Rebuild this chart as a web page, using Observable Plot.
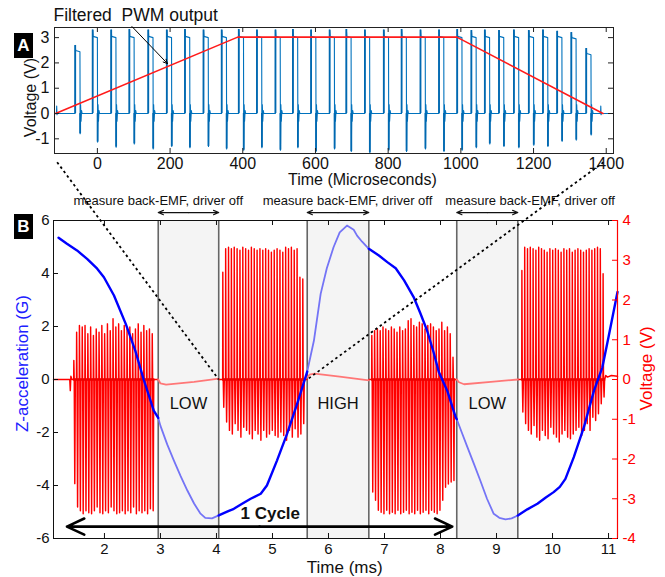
<!DOCTYPE html>
<html><head><meta charset="utf-8">
<script src="https://cdn.jsdelivr.net/npm/d3@7"></script>
<script src="https://cdn.jsdelivr.net/npm/@observablehq/plot@0.6"></script>
<style>
body{margin:0;background:#fff;font-family:"Liberation Sans",Arial,Helvetica,sans-serif;}
#wrap{position:relative;width:665px;height:577px;overflow:hidden;background:#fff;}
#pa,#pb{position:absolute;left:0;top:0;}
.tag{position:absolute;width:19px;height:25px;background:#000;color:#fff;font-weight:bold;font-size:17px;line-height:25px;text-align:center;}
</style></head><body>
<div id="wrap"><div id="pb"></div><div id="pa"></div><div class="tag" style="left:14px;top:33px">A</div><div class="tag" style="left:14px;top:214px">B</div></div>
<script>
// ================= PANEL A data =================
const aTitle = "Filtered\u00a0 PWM output";
const aXLabel = "Time (Microseconds)";
const aYLabel = "Voltage (V)";
const aXDomain = [-118, 1420];
const aYDomain = [-1.58, 3.4];
const aXTicks = [0, 200, 400, 600, 800, 1000, 1200, 1400];
const aYTicks = [-1, 0, 1, 2, 3];
// PWM pulses (rising-edge time in µs, peak and trough in V)
const pulseT = [-61,-13,38,88,140,191,241,292,342,389,439,490,538,588,639,685,736,788,837,889,940,990,1029,1066,1105,1146,1187,1226,1265,1304,1345];
const pulsePeak = [2.69,3.3,3.3,3.32,3.3,3.3,3.32,3.3,3.3,3.32,3.3,3.3,3.32,3.3,3.3,3.32,3.3,3.3,3.32,3.3,3.3,3.32,3.28,3.3,3.28,3.3,3.28,3.3,3.25,3.2,2.57];
const pulseTrough = [-0.8,-1.13,-1.33,-1.2,-1.4,-1.3,-1.35,-1.3,-1.4,-1.45,-1.35,-1.45,-1.35,-1.5,-1.4,-1.5,-1.55,-1.45,-1.5,-1.4,-1.5,-1.45,-1.35,-1.2,-1.3,-1.35,-1.25,-1.3,-1.1,-1.05,-0.85];
const pulsePlateau = 3.05;
const pulseWidth = 13;
const bumpT = [-112, 1385];
const bumpV = [0.3, 0.3];
// filtered PWM output (trapezoid)
const filteredT = [-115, 386, 989, 1391];
const filteredV = [0, 3.02, 3.02, 0];
const pwmArrowT = [95, 193];
const pwmArrowV = [3.44, 1.97];

// ================= PANEL B data =================
const bXLabel = "Time (ms)";
const bYLabel = "Z-acceleration (G)";
const bVLabel = "Voltage (V)";
const bXDomain = [1.09, 11.16];
const bYDomain = [-6, 6];
const bXTicks = [2, 3, 4, 5, 6, 7, 8, 9, 10, 11];
const bYTicks = [-6, -4, -2, 0, 2, 4, 6];
const bVTicks = [-4, -3, -2, -1, 0, 1, 2, 3, 4];
const vToG = 1.5; // right axis: 4 V spans the same height as 6 G
const windowStart = [2.96, 5.62, 8.29];
const windowEnd = [4.04, 6.72, 9.38];
const windowLabel = ["LOW", "HIGH", "LOW"];
const emfText = "measure back-EMF, driver off";
const emfLabelT = [2.96, 6.34, 9.6];
const emfLabelG = 6.75;
const emfArrowG = 6.3;
const windowLabelG = -0.9;
// acceleration, driver on (dark) and measuring (light)
const driveT = [
  [1.18,1.33,1.51,1.69,1.87,1.99,2.17,2.38,2.55,2.70,2.88,2.96],
  [4.04,4.2,4.31,4.45,4.61,4.79,4.9,4.96,5.08,5.26,5.44,5.59,5.62],
  [6.72,6.9,7.05,7.2,7.35,7.52,7.64,7.76,7.88,7.97,8.12,8.27,8.29],
  [9.38,9.55,9.73,9.88,10.02,10.13,10.23,10.38,10.56,10.74,10.89,11.0,11.16]];
const driveG = [
  [5.35,5.12,4.87,4.55,4.18,3.86,3.17,2.10,1.09,0.0,-1.17,-1.45],
  [-5.13,-4.98,-4.88,-4.7,-4.5,-4.31,-4.0,-3.69,-3.06,-2.05,-0.92,0.09,0.3],
  [4.93,4.68,4.43,4.2,3.74,3.11,2.5,1.85,1.0,0.28,-0.42,-1.42,-1.5],
  [-5.13,-4.9,-4.69,-4.45,-4.25,-4.05,-3.75,-2.93,-1.8,-0.42,0.46,1.6,3.3]];
const measureT = [
  [2.96,3.0,3.12,3.24,3.36,3.48,3.6,3.71,3.8,3.92,4.04],
  [5.62,5.74,5.86,5.97,6.09,6.2,6.33,6.45,6.51,6.6,6.72],
  [8.29,8.38,8.48,8.6,8.71,8.83,8.95,9.05,9.16,9.27,9.38]];
const measureG = [
  [-1.45,-1.75,-2.45,-3.06,-3.65,-4.19,-4.68,-5.05,-5.22,-5.24,-5.13],
  [0.3,1.47,3.23,4.2,4.99,5.55,5.81,5.65,5.43,5.2,4.93],
  [-1.5,-2.0,-2.55,-3.2,-3.81,-4.5,-5.07,-5.22,-5.28,-5.24,-5.13]];
// drive voltage bursts (V)
const burstStart = [1.45, 4.11, 6.77, 9.45];
const burstPeriod = [0.05, 0.051, 0.05, 0.05];
const burst1Pos = [0.48,1.19,1.36,1.32,1.36,1.15,1.32,1.11,1.27,1.19,1.36,1.15,1.40,1.23,1.53,1.32,1.40,1.23,1.36,1.27,1.32,1.15,1.27,1.40,1.19,1.36,1.23,1.27,1.15];
const burst1Neg = [-2.62,-3.21,-3.3,-3.38,-3.3,-3.35,-3.38,-3.3,-3.21,-3.35,-3.38,-3.3,-3.35,-3.21,-3.3,-3.38,-3.35,-3.3,-3.38,-3.3,-3.35,-3.21,-3.38,-3.3,-3.35,-3.3,-3.38,-3.25,-3.3];
const burst2Pos = [2.70,3.29,3.33,3.29,3.33,3.29,3.25,3.33,3.29,3.25,3.33,3.29,3.25,3.29,3.25,3.29,3.25,3.20,3.25,3.29,3.25,3.20,3.33,3.29,3.33,3.25,3.29,2.57,2.53];
const burst2Neg = [-0.70,-1.07,-1.28,-1.37,-1.11,-1.28,-1.45,-1.20,-1.28,-1.37,-1.49,-1.28,-1.37,-1.53,-1.28,-1.45,-1.37,-1.28,-1.41,-1.45,-1.32,-1.41,-1.53,-1.28,-1.45,-1.24,-1.45,-1.37,-1.11];
const burst3Pos = [1.11,1.23,1.27,1.23,1.32,1.27,1.23,1.32,1.27,1.19,1.32,1.23,1.27,1.48,1.53,1.36,1.32,1.44,1.40,1.27,1.36,1.40,1.32,1.23,1.27,1.44,1.23,1.32,1.15,0.56];
const burst3Neg = [-2.83,-3.04,-3.29,-3.34,-3.38,-3.29,-3.38,-3.34,-3.38,-3.29,-3.38,-3.34,-3.29,-3.38,-3.34,-3.38,-3.29,-3.38,-3.34,-3.29,-3.38,-3.29,-3.34,-3.38,-3.29,-3.04,-2.71,-2.63,-2.58,-2.54];
const burst4Pos = [2.74,3.33,3.29,3.33,3.29,3.25,3.33,3.29,3.25,3.20,3.29,3.25,3.29,3.25,3.20,3.29,3.25,3.29,3.20,3.25,3.29,3.25,3.20,3.25,3.29,3.25,3.29,3.33,3.29,2.66];
const burst4Neg = [-0.82,-1.11,-1.28,-1.37,-1.16,-1.45,-1.53,-1.28,-1.41,-1.49,-1.20,-1.37,-1.45,-1.57,-1.37,-1.28,-1.45,-1.49,-1.37,-1.28,-1.20,-1.41,-1.28,-1.11,-1.28,-0.95,-1.03,-0.86,-0.61,-0.44];
const preT = [1.09, 1.38, 1.39, 1.40, 1.42];
const preV = [0, 0, -0.28, 0.08, 0];
const postT = [10.93, 10.95, 10.98, 11.05, 11.16];
const postV = [0, 0.1, 0.06, 0.1, 0.08];
// back-EMF during measurement windows (V)
const quietT = [[2.96,3.0,3.1,3.6,4.04],[5.62,5.66,5.75,6.2,6.72],[8.29,8.33,8.42,8.9,9.38]];
const quietV = [[0,-0.1,-0.13,-0.06,0.02],[0.05,0.12,0.15,0.07,-0.02],[0,-0.07,-0.12,-0.06,0]];
// zoom connectors (panel A -> panel B), in panel B units
const zoomFromT = [1.155, 10.91];
const zoomFromG = [8.2, 8.2];
const zoomToT = [4.04, 5.62];
const zoomToG = [0, 0];
// 1 cycle
const cycleT = [1.33, 8.21];
const cycleG = -5.55;
const cycleText = "1 Cycle";
const cycleTextT = 4.96;
const cycleTextG = -5.06;

const font = '"Liberation Sans", Arial, Helvetica, sans-serif';
const fmt = d => (d < 0 ? "-" : "") + Math.abs(Math.round(d * 1000) / 1000);

// ---------- build panel A signal ----------
const aSignal = [{t: aXDomain[0], v: 0}];
const aEvents = [];
pulseT.forEach((t, i) => aEvents.push({t, kind: "p", i}));
bumpT.forEach((t, i) => aEvents.push({t, kind: "b", i}));
aEvents.sort((a, b) => a.t - b.t);
const riseRules = [], troughRules = [];
for (const e of aEvents) {
  const t = e.t, i = e.i;
  if (e.kind === "b") {
    aSignal.push({t: t - 0.6, v: 0}, {t, v: bumpV[i]}, {t: t + 0.8, v: -0.05}, {t: t + 1.6, v: 0});
  } else {
    const w = pulseWidth;
    const top = Math.min(pulsePlateau, pulsePeak[i] - 0.2);
    aSignal.push({t: t - 0.3, v: 0}, {t, v: pulsePeak[i]}, {t: t + 1.2, v: top},
      {t: t + w, v: top - 0.05}, {t: t + w + 0.6, v: pulseTrough[i]}, {t: t + w + 1.8, v: 0.35},
      {t: t + w + 3, v: -0.3}, {t: t + w + 4.5, v: 0.12}, {t: t + w + 6, v: 0});
    riseRules.push({t, y1: 0, y2: pulsePeak[i]});
    troughRules.push({t: t + w + 0.6, y1: pulseTrough[i], y2: 0});
  }
}
aSignal.push({t: aXDomain[1], v: 0});
const filtered = filteredT.map((t, i) => ({t, v: filteredV[i]}));

const aInnerW = 665 - 54 - 52, aInnerH = 190 - 27 - 37;
const panelA = Plot.plot({
  width: 665, height: 190, marginTop: 27, marginBottom: 37, marginLeft: 54, marginRight: 52,
  x: {domain: aXDomain}, y: {domain: aYDomain},
  style: {fontFamily: font, fontSize: "16px", background: "transparent", overflow: "visible", color: "#111"},
  marks: [
    Plot.line(aSignal, {x: "t", y: "v", stroke: "#0072BD", strokeWidth: 1.1}),
    Plot.ruleX(riseRules, {x: "t", y1: "y1", y2: "y2", stroke: "#0068b0", strokeWidth: 1.8}),
    Plot.ruleX(troughRules, {x: "t", y1: "y1", y2: "y2", stroke: "#0068b0", strokeWidth: 1.8}),
    Plot.line(filtered, {x: "t", y: "v", stroke: "#ff1a1a", strokeWidth: 1.6}),
    Plot.frame({stroke: "#222", strokeWidth: 1}),
    Plot.tickX(aXTicks, {x: d => d, insetTop: aInnerH - 5, stroke: "#222"}),
    Plot.tickX(aXTicks, {x: d => d, insetBottom: aInnerH - 5, stroke: "#222"}),
    Plot.tickY(aYTicks, {y: d => d, insetRight: aInnerW - 5, stroke: "#222"}),
    Plot.tickY(aYTicks, {y: d => d, insetLeft: aInnerW - 5, stroke: "#222"}),
    Plot.axisX({ticks: aXTicks, tickSize: 0, tickPadding: 4, label: null, tickFormat: fmt, fontSize: 16}),
    Plot.axisY({ticks: aYTicks, tickSize: 0, tickPadding: 5, label: null, tickFormat: fmt, fontSize: 16}),
    Plot.text([aXLabel], {x: () => 729, frameAnchor: "bottom", dy: 26, lineAnchor: "middle", textAnchor: "middle", fontSize: 16, text: d => d}),
    Plot.text([aYLabel], {y: () => 0.63, frameAnchor: "left", dx: -24, rotate: -90, textAnchor: "middle", lineAnchor: "middle", fontSize: 16, text: d => d}),
    Plot.text([aTitle], {frameAnchor: "top-left", textAnchor: "start", lineAnchor: "middle", dx: -1, dy: -12, fontSize: 17.5, text: d => d}),
    Plot.arrow([0], {x1: () => pwmArrowT[0], y1: () => pwmArrowV[0], x2: () => pwmArrowT[1], y2: () => pwmArrowV[1], stroke: "#000", strokeWidth: 1, headLength: 7, headAngle: 50})
  ]
});
document.getElementById("pa").appendChild(panelA);

// ---------- build panel B signals ----------
const burstPos = [burst1Pos, burst2Pos, burst3Pos, burst4Pos];
const burstNeg = [burst1Neg, burst2Neg, burst3Neg, burst4Neg];
const red = [];
const burstBase = [];
burstPos.forEach((pos, k) => {
  if (k === 0) preT.forEach((t, i) => red.push({t, v: preV[i], z: k}));
  else red.push({t: windowEnd[k - 1], v: 0, z: k});
  pos.forEach((p, i) => {
    const t = burstStart[k] + i * burstPeriod[k];
    red.push({t, v: 0, z: k}, {t: t + 0.003, v: p, z: k}, {t: t + 0.01, v: 0, z: k},
      {t: t + 0.02, v: burstNeg[k][i], z: k}, {t: t + 0.03, v: 0, z: k});
  });
  burstBase.push({x1: burstStart[k], x2: burstStart[k] + pos.length * burstPeriod[k]});
  if (k < 3) red.push({t: windowStart[k], v: 0, z: k});
  else postT.forEach((t, i) => red.push({t, v: postV[i], z: k}));
});
const quiet = quietT.flatMap((ts, k) => ts.map((t, i) => ({t, v: quietV[k][i], z: k})));
const driveAcc = driveT.flatMap((ts, k) => ts.map((t, i) => ({t, g: driveG[k][i], z: k})));
const measureAcc = measureT.flatMap((ts, k) => ts.map((t, i) => ({t, g: measureG[k][i], z: k})));
const windows = windowStart.map((s, i) => ({s, e: windowEnd[i], label: windowLabel[i], mid: (s + windowEnd[i]) / 2, tt: emfLabelT[i]}));
const emfArrows = windows.flatMap(w => [{x1: w.mid, x2: w.s}, {x1: w.mid, x2: w.e}]);
const cycleMid = (cycleT[0] + cycleT[1]) / 2;
const cycleArrows = [{x1: cycleMid, x2: cycleT[0]}, {x1: cycleMid, x2: cycleT[1]}];
const zoomLines = zoomFromT.map((t, i) => ({x1: t, y1: zoomFromG[i], x2: zoomToT[i], y2: zoomToG[i]}));

const bInnerW = 665 - 53 - 48, bInnerH = 577 - 220 - 39;
const panelB = Plot.plot({
  width: 665, height: 577, marginTop: 220, marginBottom: 39, marginLeft: 53, marginRight: 48,
  x: {domain: bXDomain}, y: {domain: bYDomain},
  style: {fontFamily: font, fontSize: "15px", background: "transparent", overflow: "visible", color: "#111"},
  marks: [
    Plot.rect(windows, {x1: "s", x2: "e", y1: () => bYDomain[0], y2: () => bYDomain[1], fill: "#f4f4f4"}),
    Plot.ruleX(windows.flatMap(w => [w.s, w.e]), {stroke: "#666", strokeWidth: 1.6}),
    Plot.line(red, {x: "t", y: d => d.v * vToG, z: "z", stroke: "#ff0000", strokeWidth: 1.45}),
    Plot.ruleY(burstBase, {x1: "x1", x2: "x2", y: () => 0, stroke: "#ee0000", strokeWidth: 2.5}),
    Plot.line(quiet, {x: "t", y: d => d.v * vToG, z: "z", stroke: "#ff7777", strokeWidth: 1.8}),
    Plot.line(measureAcc, {x: "t", y: "g", z: "z", stroke: "#7474f6", strokeWidth: 1.8}),
    Plot.line(driveAcc, {x: "t", y: "g", z: "z", stroke: "#0000ff", strokeWidth: 2.4}),
    Plot.frame({stroke: "#111", strokeWidth: 1}),
    Plot.ruleX([bXDomain[1]], {stroke: "#ff0000", strokeWidth: 1.2}),
    Plot.tickX(bXTicks, {x: d => d, insetTop: bInnerH - 5, stroke: "#111"}),
    Plot.tickX(bXTicks, {x: d => d, insetBottom: bInnerH - 5, stroke: "#111"}),
    Plot.tickY(bYTicks, {y: d => d, insetRight: bInnerW - 5, stroke: "#111"}),
    Plot.tickY(bVTicks, {y: d => d * vToG, insetLeft: bInnerW - 5, stroke: "#ff0000"}),
    Plot.axisX({ticks: bXTicks, tickSize: 0, tickPadding: 5, label: null, tickFormat: fmt, fontSize: 15}),
    Plot.axisY({ticks: bYTicks, tickSize: 0, tickPadding: 4, label: null, tickFormat: fmt, fontSize: 15}),
    Plot.axisY({anchor: "right", ticks: bVTicks.map(v => v * vToG), tickSize: 0, tickPadding: 5, label: null,
      tickFormat: d => fmt(d / vToG), fill: "#ff0000", fontSize: 15}),
    Plot.text([bXLabel], {x: () => 6.29, frameAnchor: "bottom", dy: 29, lineAnchor: "middle", textAnchor: "middle", fontSize: 17, text: d => d}),
    Plot.text([bYLabel], {y: () => 0.6, frameAnchor: "left", dx: -31, rotate: -90, textAnchor: "middle", lineAnchor: "middle", fontSize: 17, fill: "#2020ff", text: d => d}),
    Plot.text([bVLabel], {y: () => 0.42, frameAnchor: "right", dx: 29, rotate: -90, textAnchor: "middle", lineAnchor: "middle", fontSize: 17, fill: "#ff0000", text: d => d}),
    Plot.text(windows, {x: "mid", y: () => windowLabelG, text: "label", fontSize: 16.5}),
    Plot.text(windows, {x: "tt", y: () => emfLabelG, text: () => emfText, fontSize: 13}),
    Plot.arrow(emfArrows, {x1: "x1", x2: "x2", y1: () => emfArrowG, y2: () => emfArrowG, stroke: "#111", strokeWidth: 1.2, headLength: 7, headAngle: 45}),
    Plot.arrow(cycleArrows, {x1: "x1", x2: "x2", y1: () => cycleG, y2: () => cycleG, stroke: "#000", strokeWidth: 2.6, headLength: 11, headAngle: 50}),
    Plot.text([cycleText], {x: () => cycleTextT, y: () => cycleTextG, text: d => d, fontSize: 17, fontWeight: "bold"}),
    Plot.link(zoomLines, {x1: "x1", y1: "y1", x2: "x2", y2: "y2", stroke: "#000", strokeWidth: 1.8, strokeDasharray: "2.5,3"})
  ]
});
document.getElementById("pb").appendChild(panelB);
</script>
</body></html>
